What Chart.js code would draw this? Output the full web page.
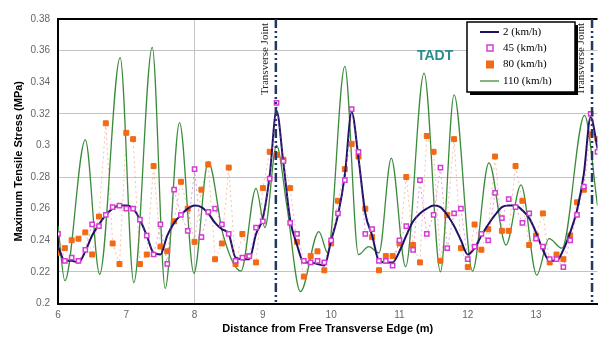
<!DOCTYPE html>
<html lang="en">
<head>
<meta charset="UTF-8">
<title>Maximum Tensile Stress - TADT</title>
<script src="https://cdn.jsdelivr.net/npm/chart.js"></script>
<style>
  body { margin: 0; background: #fff; }
  #stressChart { display: block; }
</style>
</head>
<body>
<canvas id="stressChart" width="603" height="338"></canvas>
<script>
// distance from free transverse edge (m), one station every 0.1 m
const stations = [
  6.0, 6.1, 6.2, 6.3, 6.4, 6.5, 6.6, 6.7, 6.8, 6.9,
  7.0, 7.1, 7.2, 7.3, 7.4, 7.5, 7.6, 7.7, 7.8, 7.9,
  8.0, 8.1, 8.2, 8.3, 8.4, 8.5, 8.6, 8.7, 8.8, 8.9,
  9.0, 9.1, 9.2, 9.3, 9.4, 9.5, 9.6, 9.7, 9.8, 9.9,
  10.0, 10.1, 10.2, 10.3, 10.4, 10.5, 10.6, 10.7, 10.8, 10.9,
  11.0, 11.1, 11.2, 11.3, 11.4, 11.5, 11.6, 11.7, 11.8, 11.9,
  12.0, 12.1, 12.2, 12.3, 12.4, 12.5, 12.6, 12.7, 12.8, 12.9,
  13.0, 13.1, 13.2, 13.3, 13.4, 13.5, 13.6, 13.7, 13.8, 13.9
];
const speed2 = [
  0.236, 0.227, 0.227, 0.226, 0.233, 0.243, 0.250, 0.256, 0.260, 0.262,
  0.262, 0.260, 0.253, 0.243, 0.232, 0.231, 0.243, 0.251, 0.256, 0.260,
  0.262, 0.261, 0.257, 0.251, 0.247, 0.244, 0.229, 0.228, 0.228, 0.244,
  0.254, 0.281, 0.322, 0.289, 0.253, 0.237, 0.226, 0.226, 0.225, 0.224,
  0.240, 0.256, 0.281, 0.321, 0.292, 0.257, 0.243, 0.227, 0.226, 0.226,
  0.233, 0.243, 0.252, 0.257, 0.260, 0.262, 0.261, 0.256, 0.249, 0.240,
  0.231, 0.235, 0.243, 0.250, 0.256, 0.261, 0.262, 0.262, 0.259, 0.254,
  0.245, 0.234, 0.227, 0.227, 0.234, 0.245, 0.259, 0.282, 0.318, 0.298
];
const speed45 = [
  0.244, 0.227, 0.229, 0.227, 0.234, 0.250, 0.249, 0.256, 0.261, 0.262,
  0.260, 0.260, 0.253, 0.243, 0.231, 0.250, 0.225, 0.272, 0.256, 0.246,
  0.285, 0.242, 0.258, 0.260, 0.250, 0.244, 0.227, 0.229, 0.230, 0.248,
  0.252, 0.279, 0.327, 0.290, 0.251, 0.244, 0.227, 0.226, 0.227, 0.226,
  0.240, 0.257, 0.278, 0.323, 0.296, 0.244, 0.247, 0.227, 0.227, 0.224,
  0.240, 0.249, 0.234, 0.278, 0.244, 0.256, 0.286, 0.235, 0.257, 0.260,
  0.228, 0.236, 0.244, 0.240, 0.270, 0.254, 0.266, 0.261, 0.251, 0.257,
  0.241, 0.236, 0.228, 0.228, 0.223, 0.240, 0.256, 0.274, 0.320, 0.296
];
const speed80 = [
  0.232, 0.235, 0.240, 0.241, 0.245, 0.231, 0.255, 0.314, 0.238, 0.225,
  0.308, 0.304, 0.225, 0.231, 0.287, 0.236, 0.233, 0.252, 0.277, 0.260,
  0.239, 0.272, 0.288, 0.228, 0.238, 0.286, 0.225, 0.244, 0.230, 0.226,
  0.273, 0.296, 0.294, 0.291, 0.273, 0.239, 0.217, 0.230, 0.233, 0.221,
  0.238, 0.265, 0.285, 0.301, 0.293, 0.260, 0.242, 0.221, 0.230, 0.230,
  0.238, 0.280, 0.237, 0.226, 0.306, 0.296, 0.227, 0.256, 0.304, 0.235,
  0.223, 0.250, 0.234, 0.247, 0.293, 0.246, 0.246, 0.287, 0.265, 0.237,
  0.243, 0.257, 0.226, 0.231, 0.228, 0.243, 0.264, 0.272, 0.307, 0.304
];
// 110 km/h curve, read at its peaks and troughs
const fastX = [
  6.0, 6.1, 6.4, 6.61, 6.91, 7.11, 7.38, 7.57, 7.78, 7.99,
  8.2, 8.42, 8.68, 8.9, 9.03, 9.2, 9.35, 9.55, 9.82, 9.95,
  10.2, 10.4, 10.55, 10.7, 10.88, 11.09, 11.36, 11.6, 11.8, 12.07,
  12.31, 12.56, 12.78, 13.01, 13.19, 13.38, 13.71, 13.9
];
const speed110 = [
  0.249, 0.2145, 0.3035, 0.2185, 0.3556, 0.2132, 0.3621, 0.2096, 0.3144, 0.2191,
  0.2897, 0.243, 0.2205, 0.2729, 0.248, 0.300, 0.262, 0.2075, 0.2455, 0.232,
  0.350, 0.231, 0.236, 0.232, 0.292, 0.2233, 0.3457, 0.2201, 0.332, 0.2205,
  0.289, 0.237, 0.275, 0.218, 0.241, 0.235, 0.319, 0.262
];
const seriesNames = ["2 (km/h)", "45 (km/h)", "80 (km/h)", "110 (km/h)"];
const jointsAt = [9.19, 13.82];
const xTicks = [6, 7, 8, 9, 10, 11, 12, 13];
const xGridAt = [8];
const yTicks = [0.2, 0.22, 0.24, 0.26, 0.28, 0.3, 0.32, 0.34, 0.36, 0.38];
const gridAt = [0.22, 0.28, 0.32, 0.36];

const toPoints = (xs, ys) => xs.map((x, i) => ({ x: x, y: ys[i] }));

// joint lines, labels, TADT tag and the boxed legend
const overlay = {
  id: "overlay",
  afterDatasetsDraw(chart) {
    const { ctx, chartArea, scales: { x } } = chart;
    ctx.save();
    jointsAt.forEach(v => {
      const px = x.getPixelForValue(v);
      ctx.strokeStyle = "#1f3864";
      ctx.lineWidth = 2.5;
      ctx.setLineDash([9, 3, 2, 3, 2, 3]);
      ctx.beginPath();
      ctx.moveTo(px, chartArea.top);
      ctx.lineTo(px, chartArea.bottom);
      ctx.stroke();
      ctx.setLineDash([]);

      ctx.save();
      ctx.translate(px - 11, chartArea.top + 4);
      ctx.rotate(-Math.PI / 2);
      ctx.font = '11px "Liberation Serif"';
      ctx.fillStyle = "#222";
      ctx.textAlign = "right";
      ctx.textBaseline = "middle";
      ctx.fillText("Transverse Joint", 0, 0);
      ctx.restore();
    });

    ctx.font = 'bold 14px "Liberation Sans"';
    ctx.fillStyle = "#2b8c8c";
    ctx.textAlign = "left";
    ctx.textBaseline = "middle";
    ctx.fillText("TADT", 417, 56);

    // legend box with drop shadow
    const bx = 467, by = 22, bw = 108, bh = 70;
    ctx.fillStyle = "#000";
    ctx.fillRect(bx + 3, by + 3, bw, bh);
    ctx.fillStyle = "#fff";
    ctx.fillRect(bx, by, bw, bh);
    ctx.strokeStyle = "#000";
    ctx.lineWidth = 1.5;
    ctx.strokeRect(bx, by, bw, bh);

    const rowY = [32, 48, 64.5, 81];
    chart.data.datasets.forEach((ds, i) => {
      const y = rowY[i];
      if (ds.pointRadius === 0) {
        ctx.strokeStyle = ds.borderColor;
        ctx.lineWidth = ds.borderWidth;
        ctx.beginPath();
        ctx.moveTo(480, y);
        ctx.lineTo(499, y);
        ctx.stroke();
      } else {
        const s = ds.pointRadius * 2;
        ctx.fillStyle = ds.pointBackgroundColor;
        ctx.fillRect(490 - s / 2, y - s / 2, s, s);
        ctx.strokeStyle = ds.pointBorderColor;
        ctx.lineWidth = ds.pointBorderWidth;
        ctx.strokeRect(490 - s / 2, y - s / 2, s, s);
      }
      ctx.font = '11px "Liberation Serif"';
      ctx.fillStyle = "#000";
      ctx.textAlign = "left";
      ctx.fillText(ds.label, 503, y);
    });
    ctx.restore();
  }
};

const ctx = document.getElementById("stressChart").getContext("2d");
new Chart(ctx, {
  type: "line",
  data: {
    datasets: [
      {
        label: seriesNames[0],
        data: toPoints(stations, speed2),
        borderColor: "#1b1464",
        borderWidth: 2,
        pointRadius: 0,
        cubicInterpolationMode: "monotone",
        order: 1
      },
      {
        label: seriesNames[1],
        data: toPoints(stations, speed45),
        borderColor: "rgba(214, 70, 214, 0.55)",
        borderWidth: 1,
        borderDash: [2, 3],
        pointStyle: "rect",
        pointRadius: 3,
        pointBorderWidth: 1.5,
        pointBorderColor: "#d43cd4",
        pointBackgroundColor: "#fff",
        order: 0
      },
      {
        label: seriesNames[2],
        data: toPoints(stations, speed80),
        borderColor: "rgba(240, 140, 100, 0.55)",
        borderWidth: 1,
        borderDash: [2, 3],
        pointStyle: "rect",
        pointRadius: 3.5,
        pointBorderWidth: 1,
        pointBorderColor: "#f26a14",
        pointBackgroundColor: "#f26a14",
        order: 2
      },
      {
        label: seriesNames[3],
        data: toPoints(fastX, speed110),
        borderColor: "#3b8b3b",
        borderWidth: 1.3,
        pointRadius: 0,
        cubicInterpolationMode: "monotone",
        order: 3
      }
    ]
  },
  options: {
    responsive: false,
    animation: false,
    layout: { padding: { top: 19, left: 0, right: 0, bottom: 0 } },
    plugins: {
      legend: { display: false },
      tooltip: { enabled: false }
    },
    scales: {
      x: {
        type: "linear",
        min: 6,
        max: 13.9,
        afterBuildTicks: s => { s.ticks = xTicks.map(v => ({ value: v })); },
        afterFit: s => { s.height = 34.5; },
        grid: {
          drawTicks: false,
          color: c => xGridAt.includes(c.tick.value) ? "#c4c4c4" : "rgba(0,0,0,0)"
        },
        border: { display: true, color: "#000", width: 2 },
        ticks: {
          color: "#666",
          padding: 6,
          maxRotation: 0,
          autoSkip: false,
          font: { family: "Liberation Sans", size: 10 }
        },
        title: {
          display: true,
          text: "Distance from Free Transverse Edge (m)",
          color: "#000",
          padding: { top: 0, bottom: 2 },
          font: { family: "Liberation Sans", size: 11, weight: "bold" }
        }
      },
      y: {
        min: 0.2,
        max: 0.38,
        afterBuildTicks: s => { s.ticks = yTicks.map(v => ({ value: v })); },
        afterFit: s => { s.width = 58; },
        grid: {
          drawTicks: false,
          color: c => c.tick.value === 0.38 ? "#000" : (gridAt.includes(c.tick.value) ? "#c4c4c4" : "rgba(0,0,0,0)"),
          lineWidth: c => c.tick.value === 0.38 ? 2 : 1
        },
        border: { display: true, color: "#000", width: 2 },
        ticks: {
          color: "#666",
          padding: 8,
          font: { family: "Liberation Sans", size: 10 },
          callback: v => String(+v.toFixed(2))
        },
        title: {
          display: true,
          text: "Maximum Tensile Stress (MPa)",
          color: "#000",
          padding: { top: 12, bottom: 0 },
          font: { family: "Liberation Sans", size: 11, weight: "bold" }
        }
      }
    }
  },
  plugins: [overlay]
});
</script>
</body>
</html>
